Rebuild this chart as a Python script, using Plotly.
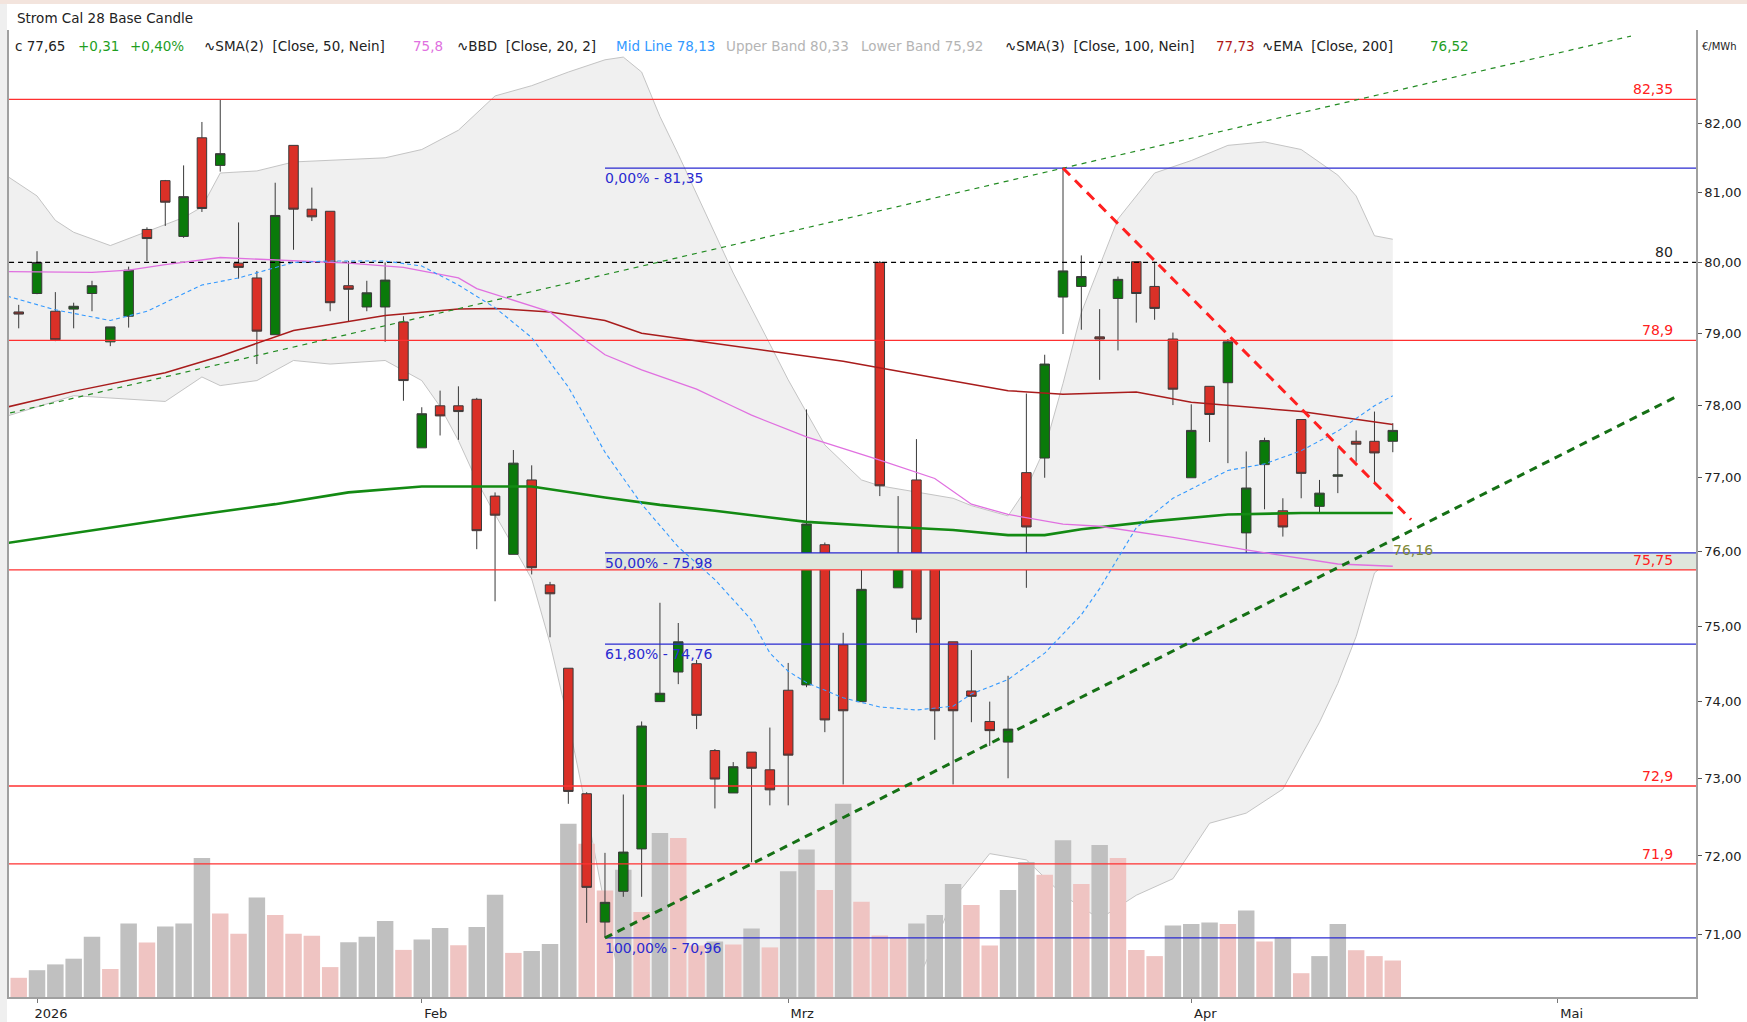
import math
import plotly.graph_objects as go

# ---- daily candles, one entry per trading day (31.12.2025 .. 20.04.2026)
opens = [79.30, 79.56, 79.31, 79.34, 79.56, 78.88, 79.24, 80.47, 81.17, 80.37,
         81.79, 81.39, 79.99, 79.78, 78.98, 81.68, 80.76, 80.73, 79.67, 79.37,
         79.37, 79.16, 77.41, 77.99, 77.99, 78.08, 76.75, 75.96, 76.97, 75.55,
         74.44, 72.80, 71.16, 71.55, 72.09, 74.00, 74.39, 74.50, 73.36, 72.81,
         73.34, 73.11, 74.15, 74.22, 76.09, 74.75, 74.00, 80.00, 75.51, 76.97,
         75.94, 74.79, 74.14, 73.74, 73.47, 77.07, 77.27, 79.51, 79.66, 78.95,
         79.49, 80.01, 79.66, 78.92, 77.00, 78.26, 78.31, 76.25, 77.18, 76.55,
         77.80, 76.61, 77.02, 77.50, 77.50, 77.50]
highs = [79.40, 80.16, 79.58, 79.43, 79.74, 79.09, 79.94, 80.50, 81.18, 81.39,
         82.02, 82.35, 80.57, 79.88, 81.14, 81.68, 81.07, 80.73, 80.02, 79.74,
         80.00, 79.24, 77.97, 78.20, 78.26, 78.10, 76.80, 77.38, 77.17, 75.59,
         74.44, 72.82, 72.04, 72.79, 73.74, 75.31, 75.04, 74.55, 73.38, 73.21,
         73.34, 73.66, 74.51, 77.94, 76.12, 74.91, 75.81, 80.02, 76.75, 77.53,
         75.94, 74.79, 74.68, 74.00, 74.34, 78.16, 78.70, 81.35, 80.10, 79.34,
         79.80, 80.01, 80.01, 79.01, 78.01, 78.26, 78.92, 77.36, 77.55, 76.72,
         77.80, 76.97, 77.41, 77.65, 77.91, 77.75]
lows = [79.07, 79.55, 78.89, 79.07, 79.31, 78.82, 79.08, 80.02, 80.52, 80.35,
        80.72, 81.30, 79.77, 78.57, 78.98, 80.18, 80.59, 79.31, 79.17, 79.31,
        78.88, 78.06, 77.41, 77.58, 77.52, 76.03, 75.33, 75.96, 75.69, 74.85,
        72.67, 71.15, 70.96, 71.48, 71.48, 74.00, 74.23, 73.64, 72.61, 72.81,
        71.92, 72.65, 72.65, 74.19, 73.60, 72.92, 74.00, 76.75, 75.51, 74.91,
        73.50, 72.92, 73.73, 73.42, 73.00, 75.51, 77.00, 78.99, 79.05, 78.35,
        78.76, 79.15, 79.19, 78.00, 77.00, 77.49, 77.20, 75.75, 76.57, 76.20,
        76.72, 76.51, 76.79, 77.22, 76.93, 77.35]
closes = [79.27, 80.00, 78.91, 79.38, 79.67, 79.09, 79.89, 80.34, 80.86, 80.94,
          80.77, 81.56, 79.93, 79.03, 80.67, 80.76, 80.65, 79.43, 79.62, 79.57,
          79.75, 78.34, 77.88, 77.85, 77.91, 76.28, 76.49, 77.20, 75.78, 75.43,
          72.83, 71.60, 71.41, 72.05, 73.68, 74.11, 74.79, 73.82, 72.99, 73.15,
          73.13, 72.85, 73.30, 76.37, 73.76, 73.88, 75.49, 76.89, 75.77, 75.09,
          73.88, 73.88, 74.07, 73.62, 73.64, 76.33, 78.57, 79.88, 79.80, 78.92,
          79.76, 79.56, 79.35, 78.22, 77.65, 77.87, 78.88, 76.86, 77.51, 76.33,
          77.06, 76.79, 77.04, 77.46, 77.34, 77.65]
volumes = [192, 268, 326, 383, 602, 280, 736, 544, 705, 736,
           1391, 835, 632, 996, 820, 632, 613, 299, 548, 602,
           759, 471, 575, 690, 517, 701, 1023, 441, 460, 529,
           1732, 1533, 1065, 1272, 851, 1640, 1590, 516, 555, 524,
           686, 496, 1257, 1476, 1071, 1932, 952, 615, 595, 734,
           821, 1131, 920, 516, 1071, 1349, 1222, 1567, 1130, 1520,
           1390, 470, 409, 714, 730, 746, 730, 865, 555, 595,
           238, 409, 730, 468, 409, 365]

# first trading day of each month (index into the candles)
month_pos = [1, 22, 42, 64, 84]
month_names = ["2026", "Feb", "Mrz", "Apr", "Mai"]

# indicators (trading-day index, value)
ema200_x = [-1, 4, 9, 14, 18, 22, 28, 32, 35, 38, 43, 47, 51, 54, 56, 58, 62, 66, 70, 75]
ema200_y = [76.10, 76.28, 76.47, 76.64, 76.80, 76.88, 76.88, 76.73, 76.63, 76.55,
            76.40, 76.34, 76.29, 76.22, 76.22, 76.30, 76.41, 76.50, 76.52, 76.52]
sma100_x = [-1, 3, 8, 11, 15, 20, 24, 26, 29, 32, 34, 39, 45, 50, 54, 57, 61, 64, 70, 75]
sma100_y = [77.95, 78.19, 78.45, 78.68, 79.04, 79.25, 79.34, 79.35, 79.30, 79.18,
            79.00, 78.82, 78.61, 78.38, 78.20, 78.15, 78.18, 78.04, 77.91, 77.73]
sma50_x = [-1, 4, 6, 8, 11, 12, 16, 18, 21, 24, 25, 29, 31, 32, 34, 37, 39, 40, 43,
           47, 50, 52, 54, 57, 59, 63, 67, 72, 75]
sma50_y = [79.87, 79.86, 79.89, 79.97, 80.07, 80.06, 80.02, 79.99, 79.93, 79.78,
           79.63, 79.30, 78.89, 78.70, 78.49, 78.22, 77.98, 77.86, 77.56, 77.24,
           76.99, 76.64, 76.50, 76.37, 76.34, 76.19, 76.02, 75.83, 75.80]
bb_mid_x = [-1, 2, 5, 7, 10, 12, 15, 17, 20, 22, 24, 26, 28, 30, 31, 32, 34, 36, 38, 40,
            41, 42, 43, 45, 47, 49, 51, 52, 54, 56, 58, 59, 61, 63, 66, 68, 70, 72, 74, 75]
bb_mid_y = [79.55, 79.33, 79.18, 79.31, 79.68, 79.78, 80.00, 80.02, 80.02, 79.95,
            79.68, 79.36, 78.94, 78.25, 77.80, 77.35, 76.64, 76.06, 75.62, 75.08,
            74.64, 74.40, 74.25, 74.05, 73.93, 73.89, 73.94, 74.10, 74.29, 74.64,
            75.15, 75.50, 76.32, 76.72, 77.10, 77.19, 77.37, 77.64, 77.99, 78.13]
bb_up_x = [-1, 1, 2, 3, 5, 6, 8, 9, 10, 11, 13, 15, 20, 22, 24, 26, 28, 30, 32, 33,
           34, 35, 36, 38, 39, 41, 42, 44, 46, 47, 49, 51, 52, 54, 55, 56, 57, 58, 60,
           62, 64, 66, 68, 70, 72, 73, 74, 75]
bb_up_y = [81.30, 80.95, 80.60, 80.43, 80.24, 80.34, 80.53, 80.64, 80.79, 81.28,
           81.31, 81.44, 81.50, 81.62, 81.90, 82.40, 82.55, 82.75, 82.93, 82.97,
           82.75, 82.10, 81.55, 80.40, 79.85, 78.85, 78.35, 77.45, 76.97, 76.89,
           76.80, 76.72, 76.62, 76.48, 76.85, 77.40, 78.30, 79.29, 80.62, 81.28,
           81.46, 81.68, 81.73, 81.62, 81.25, 80.95, 80.38, 80.33]
bb_lo_x = [-1, 3, 8, 10, 11, 13, 15, 17, 20, 22, 23, 24, 25, 26, 28, 29, 30, 31, 32, 33,
           36, 40, 44, 48, 50, 51, 53, 55, 57, 59, 61, 63, 65, 67, 69, 71, 72, 73, 74, 75]
bb_lo_y = [77.82, 78.13, 78.05, 78.39, 78.27, 78.34, 78.62, 78.57, 78.62, 78.34,
           77.98, 77.51, 76.96, 76.50, 75.63, 74.77, 73.74, 72.58, 71.35, 70.20,
           69.40, 69.00, 69.20, 69.90, 70.90, 71.45, 72.03, 71.95, 71.50, 71.20,
           71.50, 71.71, 72.42, 72.55, 72.86, 73.73, 74.24, 74.86, 75.71, 75.92]

# drawn levels and trend lines
red_levels = [82.35, 78.9, 75.75, 72.9, 71.9]
black_level = 80.0
fib_start = 32
fib_pct = [0.0, 50.0, 61.8, 100.0]
fib_levels = [81.35, 75.98, 74.76, 70.96]
zone = [75.75, 75.98]
trend_up_x, trend_up_y = [-1, 88], [77.86, 83.28]
trend_lo_x, trend_lo_y = [32, 90.5], [70.96, 78.12]
trend_red_x, trend_red_y = [57, 76], [81.35, 76.43]
trend_lo_value = 76.16

W, H = 1747, 1022
L, R, T, B = 9, 51, 30, 25
PW, PH = W - L - R, H - T - B
X_RANGE = [-0.53, 91.55]
Y_LO, Y_HI = 70.22, 83.37
Y_RANGE = [math.log10(Y_LO), math.log10(Y_HI)]
FONT = "DejaVu Sans"


def px(x):
    return (x - L) / PW


def py(y):
    return 1 - (y - T) / PH


def de(v, nd=2):
    return f"{v:.{nd}f}".replace(".", ",")


idx = list(range(len(closes)))
vol_colors = ["#efc4c2"] + ["#c0c0c0" if volumes[i] > volumes[i - 1] else "#efc4c2"
                            for i in range(1, len(volumes))]

fig = go.Figure()

# Bollinger band area (bottom layer, axis y)
fig.add_trace(go.Scatter(x=bb_up_x + bb_lo_x[::-1], y=bb_up_y + bb_lo_y[::-1],
                         fill="toself", fillcolor="#f0f0f0", line=dict(width=0),
                         mode="lines", yaxis="y", hoverinfo="skip"))
for bx, by in [(bb_up_x, bb_up_y), (bb_lo_x, bb_lo_y)]:
    fig.add_trace(go.Scatter(x=bx, y=by, mode="lines", yaxis="y",
                             line=dict(color="#c4c4c4", width=1), hoverinfo="skip"))

# volume (axis y2)
fig.add_trace(go.Bar(x=idx, y=volumes, marker=dict(color=vol_colors, line=dict(width=0)),
                     yaxis="y2", hoverinfo="skip"))

# everything price related on y3
fig.add_trace(go.Scatter(x=[fib_start, 95, 95, fib_start], y=[zone[1], zone[1], zone[0], zone[0]],
                         fill="toself", fillcolor="#dfe6dc", line=dict(width=0),
                         mode="lines", yaxis="y3", hoverinfo="skip"))
for lv in red_levels:
    fig.add_trace(go.Scatter(x=[-2, 95], y=[lv, lv], mode="lines", yaxis="y3",
                             line=dict(color="#ff3030", width=1.3), hoverinfo="skip"))
for lv in fib_levels:
    fig.add_trace(go.Scatter(x=[fib_start, 95], y=[lv, lv], mode="lines", yaxis="y3",
                             line=dict(color="#2a2ad0", width=1.3), hoverinfo="skip"))
fig.add_trace(go.Scatter(x=[-2, 95], y=[black_level, black_level], mode="lines", yaxis="y3",
                         line=dict(color="#000000", width=1.3, dash="5px,4px"), hoverinfo="skip"))

fig.add_trace(go.Scatter(x=ema200_x, y=ema200_y, mode="lines", yaxis="y3",
                         line=dict(color="#138a13", width=2.6), hoverinfo="skip"))
fig.add_trace(go.Scatter(x=sma100_x, y=sma100_y, mode="lines", yaxis="y3",
                         line=dict(color="#a81c1c", width=1.5), hoverinfo="skip"))
fig.add_trace(go.Scatter(x=sma50_x, y=sma50_y, mode="lines", yaxis="y3",
                         line=dict(color="#e070e0", width=1.3), hoverinfo="skip"))
fig.add_trace(go.Scatter(x=bb_mid_x, y=bb_mid_y, mode="lines", yaxis="y3",
                         line=dict(color="#3399ff", width=1.1, dash="4px,3px"), hoverinfo="skip"))

fig.add_trace(go.Candlestick(
    x=idx, open=opens, high=highs, low=lows, close=closes, yaxis="y3",
    whiskerwidth=0,
    increasing=dict(line=dict(color="#3a3a3a", width=1), fillcolor="#0a7a0a"),
    decreasing=dict(line=dict(color="#3a3a3a", width=1), fillcolor="#da3027"),
    hoverinfo="skip"))

fig.add_trace(go.Scatter(x=trend_up_x, y=trend_up_y, mode="lines", yaxis="y3",
                         line=dict(color="#228b22", width=1.2, dash="5px,5px"), hoverinfo="skip"))
fig.add_trace(go.Scatter(x=trend_lo_x, y=trend_lo_y, mode="lines", yaxis="y3",
                         line=dict(color="#157015", width=3, dash="8px,6px"), hoverinfo="skip"))
fig.add_trace(go.Scatter(x=trend_red_x, y=trend_red_y, mode="lines", yaxis="y3",
                         line=dict(color="#ff2020", width=3, dash="10px,7px"), hoverinfo="skip"))

ann = []
# level labels on the right
for lv in red_levels:
    ann.append(dict(x=px(1675), xref="paper", xanchor="right", y=math.log10(lv), yref="y3",
                    yanchor="bottom", text=de(lv, 2 if round(lv, 1) != lv else 1),
                    showarrow=False, font=dict(color="#ff2020", size=14, family=FONT)))
ann.append(dict(x=px(1675), xref="paper", xanchor="right", y=math.log10(black_level), yref="y3",
                yanchor="bottom", text=f"{black_level:.0f}", showarrow=False,
                font=dict(color="#222222", size=14, family=FONT)))
for p, lv in zip(fib_pct, fib_levels):
    ann.append(dict(x=fib_start, xref="x", xanchor="left", xshift=-2, y=math.log10(lv), yref="y3",
                    yanchor="top", text=f"{de(p)}% - {de(lv)}", showarrow=False,
                    font=dict(color="#2a2ad0", size=14, family=FONT)))
ann.append(dict(x=len(closes) - 1, xref="x", xanchor="left", xshift=-2,
                y=math.log10(trend_lo_value), yref="y3", yanchor="top",
                text=de(trend_lo_value), showarrow=False,
                font=dict(color="#7f8a3a", size=14, family=FONT)))

# title and indicator legend line
ann.append(dict(x=px(15), y=py(18), xref="paper", yref="paper", xanchor="left", yanchor="middle",
                text="Strom Cal 28 Base Candle", showarrow=False,
                font=dict(color="#222222", size=13.5, family=FONT)))
chg = closes[-1] - closes[-2]
legend_items = [
    (f"c {de(closes[-1])}", 13, "#222222"),
    (f"+{de(chg)}", 76, "#1f9e1f"),
    (f"+{de(chg / closes[-2] * 100)}%", 128, "#1f9e1f"),
    ("∿SMA(2)\u00a0 [Close, 50, Nein]", 202, "#222222"),
    (de(sma50_y[-1], 1), 411, "#e070e0"),
    ("∿BBD\u00a0 [Close, 20, 2]", 455, "#222222"),
    (f"Mid Line {de(bb_mid_y[-1])}", 614, "#3399ff"),
    (f"Upper Band {de(bb_up_y[-1])}", 724, "#b4b4b4"),
    (f"Lower Band {de(bb_lo_y[-1])}", 859, "#b4b4b4"),
    ("∿SMA(3)\u00a0 [Close, 100, Nein]", 1003, "#222222"),
    (de(sma100_y[-1]), 1214, "#b01818"),
    ("∿EMA\u00a0 [Close, 200]", 1260, "#222222"),
    (de(ema200_y[-1]), 1428, "#1f9e1f"),
]
for txt, xp, col in legend_items:
    ann.append(dict(x=px(xp), y=py(46), xref="paper", yref="paper", xanchor="left",
                    yanchor="middle", text=txt, showarrow=False,
                    font=dict(color=col, size=13.5, family=FONT)))
ann.append(dict(x=px(1700), y=py(46), xref="paper", yref="paper", xanchor="left",
                yanchor="middle", text="€/MWh", showarrow=False,
                font=dict(color="#222222", size=10, family=FONT)))

fig.update_layout(
    width=W, height=H,
    margin=dict(l=L, r=R, t=T, b=B, autoexpand=False),
    paper_bgcolor="white", plot_bgcolor="white",
    showlegend=False, separators=",.", bargap=0.1, boxgap=0.26,
    font=dict(family=FONT, size=13, color="#222222"),
    annotations=ann,
    xaxis=dict(range=X_RANGE, tickvals=month_pos, ticktext=month_names, automargin=False,
               ticks="outside", ticklen=4, tickcolor="#777777", ticklabelshift=14,
               showline=True, linecolor="#a0a0a0", linewidth=1.5,
               showgrid=False, zeroline=False, rangeslider=dict(visible=False),
               tickfont=dict(size=13, family=FONT, color="#222222")),
    yaxis=dict(type="log", range=Y_RANGE, side="right", automargin=False,
               tickvals=list(range(71, 83)), tickformat=".2f",
               ticks="outside", ticklen=4, tickcolor="#555555",
               showline=True, linecolor="#a0a0a0", linewidth=1.5, mirror=True,
               showgrid=False, zeroline=False,
               tickfont=dict(size=13, family=FONT, color="#222222")),
    yaxis2=dict(overlaying="y", range=[0, PH * 10], visible=False, showgrid=False),
    yaxis3=dict(overlaying="y", type="log", range=Y_RANGE, visible=False, showgrid=False),
    shapes=[
        dict(type="rect", xref="paper", yref="paper", x0=px(0), x1=px(7), y0=py(H), y1=py(0),
             fillcolor="#efefef", line=dict(width=0), layer="below"),
        dict(type="rect", xref="paper", yref="paper", x0=px(0), x1=px(W), y0=py(4), y1=py(0),
             fillcolor="#f3e4dd", line=dict(width=0), layer="below"),
    ],
)

fig.write_html("out.html", config={"displayModeBar": False},
               post_script="document.body.style.margin='0';document.body.style.overflow='hidden';")
